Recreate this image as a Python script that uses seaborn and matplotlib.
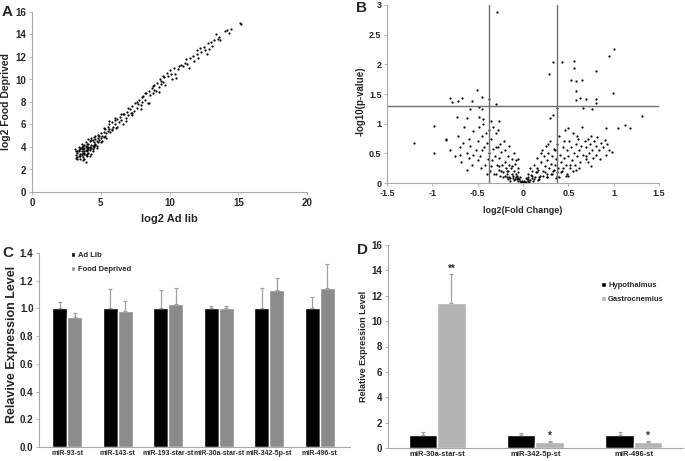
import numpy as np
import pandas as pd
import matplotlib
matplotlib.use("Agg")
import matplotlib.pyplot as plt
import seaborn as sns

# Panel A: log2 expression, ad lib vs food deprived
adlib_log2 = [3.1, 3.2, 3.2, 3.3, 3.3, 3.4, 3.4, 3.5, 3.5, 3.5, 3.6, 3.6, 3.6, 3.7, 3.7, 3.7,
              3.8, 3.8, 3.8, 3.9, 3.9, 3.9, 4.0, 4.0, 4.0, 4.0, 4.1, 4.1, 4.1, 4.2, 4.2, 4.2,
              4.3, 4.3, 4.3, 4.4, 4.4, 4.4, 4.5, 4.5, 4.5, 4.6, 4.6, 4.7, 4.7, 4.8, 4.8, 4.9,
              4.9, 5.0, 5.0, 5.1, 5.1, 5.2, 5.3, 5.3, 5.4, 5.5, 5.5, 5.6, 5.6, 5.7, 5.8, 5.9,
              6.0, 6.0, 6.1, 6.2, 6.3, 6.4, 6.5, 6.6, 6.7, 6.8, 6.9, 7.0, 7.1, 7.2, 7.3, 7.4,
              7.5, 7.6, 7.7, 7.8, 7.9, 8.0, 8.1, 8.2, 8.3, 8.4, 8.5, 8.6, 8.7, 8.8, 8.9, 9.0,
              9.1, 9.2, 9.3, 9.4, 9.5, 9.6, 9.7, 9.8, 9.9, 10.0, 10.1, 10.3, 10.4, 10.6, 10.8,
              11.0, 11.2, 11.3, 11.5, 11.7, 11.8, 12.0, 12.2, 12.3, 12.5, 12.6, 12.8, 12.9,
              13.0, 13.2, 13.4, 13.6, 13.7, 14.0, 14.2, 14.5, 15.1, 15.2,
              3.4, 3.5, 3.6, 3.7, 3.8, 3.9, 4.0, 4.1, 4.2, 3.6, 3.8, 4.0, 3.3, 4.3, 4.6, 5.2,
              5.8, 6.6, 7.3, 8.0, 8.9, 9.4, 10.5, 11.1, 12.1, 13.1,
              3.2, 3.3, 3.4, 3.5, 3.6, 3.7, 3.8, 3.9, 4.0, 4.1, 4.2, 4.3, 4.4, 4.5, 4.6, 4.7,
              4.8, 5.0, 5.2, 5.4, 5.6, 5.8, 6.0, 6.2, 6.5, 6.8, 7.0, 7.3, 7.6, 7.9, 8.2, 8.5,
              8.8, 9.2, 9.5, 10.2, 10.7, 11.4, 12.0, 12.7, 13.5, 14.3]
fooddep_log2 = [3.8, 3.3, 3.0, 3.5, 3.1, 3.7, 3.2, 3.9, 3.4, 2.9, 3.6, 3.3, 4.0, 3.8, 3.1, 2.8,
                3.5, 3.9, 4.2, 3.7, 3.3, 2.7, 3.6, 4.0, 3.9, 3.2, 3.8, 4.3, 3.5, 4.0, 3.7, 4.5,
                3.9, 4.2, 3.4, 4.6, 4.1, 3.8, 4.4, 4.0, 4.9, 4.3, 4.7, 4.5, 4.1, 4.8, 4.4, 5.0,
                4.6, 4.8, 5.2, 4.5, 5.0, 5.3, 5.0, 5.6, 5.2, 5.8, 5.4, 6.0, 5.6, 5.3, 6.2, 5.8,
                6.4, 6.0, 5.7, 6.5, 6.2, 6.7, 6.4, 6.0, 6.9, 6.6, 7.1, 6.8, 7.4, 7.0, 7.6, 7.2,
                7.9, 7.5, 7.8, 8.2, 7.7, 8.0, 8.5, 8.2, 8.8, 7.9, 9.0, 8.6, 9.2, 8.8, 9.5, 9.0,
                9.7, 9.3, 10.0, 9.6, 9.8, 10.2, 9.5, 10.6, 10.3, 10.8, 10.5, 11.0, 10.5, 10.9,
                11.3, 11.2, 11.8, 11.4, 11.9, 12.1, 11.6, 12.3, 12.8, 12.4, 12.9, 12.6, 13.2,
                12.7, 13.3, 13.5, 14.0, 13.8, 13.5, 14.3, 14.4, 14.5, 15.0, 14.9,
                3.6, 3.8, 3.4, 4.1, 3.6, 4.1, 3.7, 4.0, 3.9, 3.9, 3.4, 4.3, 3.6, 4.6, 4.2, 4.9,
                5.6, 6.9, 7.0, 8.4, 9.1, 9.9, 10.1, 11.5, 11.9, 13.0,
                3.6, 2.9, 4.0, 3.2, 4.3, 3.5, 2.9, 4.4, 3.4, 4.7, 3.2, 4.8, 3.6, 4.2, 5.0, 3.9,
                5.1, 4.4, 5.7, 4.8, 6.3, 5.5, 6.6, 5.8, 6.9, 6.3, 7.5, 6.8, 8.0, 7.4, 8.8, 7.9,
                9.4, 8.9, 10.3, 10.0, 11.2, 11.0, 12.6, 12.3, 13.6, 14.1]

# Panel B: volcano plot
fold_change = [-0.285, -1.20, -0.98, -0.98, -0.85, -0.81, -0.78, -0.72, -0.67, -0.56, -0.51,
               -0.45, -0.37, -0.30, -0.48, -0.45, -0.59, -0.73, -0.62, -0.49, -0.44, -0.27,
               0.29, 0.33, 0.43, 0.56, 0.56, 0.53, 0.58, 0.65, 0.81, 1.0, 0.95, 0.99, 0.59,
               0.63, 0.69, 0.81, 0.81, 0.76, 0.66, 0.58, 1.31, 1.12, 1.18, 1.05, 0.92, 0.30,
               0.33, 0.37,
               -0.1, -0.08, -0.06, -0.04, -0.02, 0.0, 0.01, 0.02, 0.03, 0.05, 0.06, 0.08, 0.1,
               -0.12, 0.12, -0.15, 0.15, -0.18, -0.03, 0.04, -0.05, 0.07, -0.09, 0.09,
               -0.75, -0.72, -0.7, -0.68, -0.65, -0.62, -0.6, -0.58, -0.55, -0.52, -0.5, -0.48,
               -0.47, -0.45, -0.43, -0.42, -0.4, -0.38, -0.37, -0.36, -0.35, -0.34, -0.33, -0.32,
               -0.31, -0.3, -0.29, -0.28, -0.27, -0.26, -0.25, -0.24, -0.23, -0.22, -0.21, -0.2,
               -0.19, -0.18, -0.17, -0.16, -0.15, -0.14, -0.13, -0.12, -0.11, -0.1, -0.09, -0.08,
               -0.07, -0.05, -0.03, -0.8, -0.85, -0.7, -0.66, -0.6, -0.56, -0.5, -0.46, -0.44,
               -0.41, -0.39, -0.35, -0.33, -0.3, -0.28, -0.25, -0.2, -0.15, -0.12, -0.1, -0.08,
               -0.06, -0.05, -0.3, -0.35, -0.4, -0.45, -0.55, -0.62,
               0.05, 0.08, 0.1, 0.12, 0.14, 0.15, 0.17, 0.18, 0.2, 0.21, 0.22, 0.23, 0.24, 0.25,
               0.26, 0.27, 0.28, 0.29, 0.3, 0.31, 0.32, 0.33, 0.34, 0.35, 0.36, 0.37, 0.38, 0.39,
               0.4, 0.41, 0.42, 0.43, 0.44, 0.45, 0.46, 0.47, 0.48, 0.5, 0.51, 0.52, 0.53, 0.54,
               0.55, 0.56, 0.57, 0.58, 0.6, 0.61, 0.62, 0.63, 0.64, 0.65, 0.66, 0.68, 0.69, 0.7,
               0.72, 0.73, 0.74, 0.75, 0.76, 0.77, 0.78, 0.8, 0.82, 0.84, 0.86, 0.88, 0.9, 0.93,
               0.95, 0.98, 0.6, 0.5, 0.45, 0.35, 0.28, 0.2, 0.15, 0.1, 0.7, 0.62, 0.55, 0.48,
               0.4, 0.72, 0.8, 0.85, 0.92, 0.75, 0.18, 0.22, 0.27, 0.32, 0.36, 0.42, 0.5, 0.58,
               -0.14, -0.11, -0.07, -0.01, 0.03, 0.06, 0.11, 0.13, 0.16, 0.19, -0.2, -0.16,
               0.24, 0.26, 0.31, 0.34, 0.38, 0.44, 0.47, 0.52, -0.24, -0.26, -0.22, -0.18]
neg_log10_p = [2.88, 0.675, 0.96, 0.51, 0.75, 1.44, 1.37, 1.38, 1.44, 1.38, 1.56,
               1.45, 1.42, 1.33, 1.28, 1.25, 1.24, 1.11, 1.09, 1.11, 1.08, 1.05,
               1.84, 2.04, 2.04, 2.05, 1.93, 1.74, 1.72, 1.73, 1.88, 2.25, 2.14, 1.52, 1.55,
               1.44, 1.41, 1.41, 1.34, 1.24, 1.27, 1.40, 1.13, 0.98, 0.93, 0.93, 0.93, 1.09,
               1.14, 1.27,
               0.05, 0.1, 0.03, 0.07, 0.02, 0.01, 0.04, 0.02, 0.08, 0.03, 0.1, 0.05, 0.12,
               0.15, 0.07, 0.1, 0.18, 0.2, 0.04, 0.06, 0.09, 0.02, 0.06, 0.14,
               0.45, 0.8, 0.6, 0.35, 0.95, 0.5, 0.75, 0.62, 0.88, 0.55, 0.7, 0.95,
               0.45, 0.8, 0.6, 0.3, 0.68, 0.9, 0.5, 0.2, 0.75, 0.38, 0.58, 0.15,
               0.45, 0.85, 0.3, 0.6, 0.22, 0.42, 0.12, 0.52, 0.3, 0.18, 0.7, 0.35,
               0.25, 0.1, 0.45, 0.2, 0.3, 0.08, 0.25, 0.4, 0.12, 0.2, 0.32, 0.15,
               0.06, 0.18, 0.1, 0.55, 0.72, 0.48, 0.68, 0.42, 0.3, 0.38, 0.25, 1.0,
               0.85, 0.4, 1.05, 0.95, 0.6, 0.9, 0.65, 0.55, 0.62, 0.28, 0.5, 0.38,
               0.25, 0.4, 0.15, 0.28, 0.15, 0.55, 0.48, 0.22,
               0.15, 0.25, 0.08, 0.3, 0.18, 0.42, 0.22, 0.1, 0.35, 0.55, 0.2, 0.45, 0.28, 0.62,
               0.15, 0.38, 0.5, 0.25, 0.7, 0.32, 0.45, 0.2, 0.58, 0.3, 0.4, 0.12, 0.65, 0.25,
               0.8, 0.48, 0.35, 0.2, 0.6, 0.42, 0.9, 0.3, 0.55, 0.45, 0.7, 0.25, 0.6, 0.38,
               0.85, 0.5, 0.3, 0.65, 0.45, 0.75, 0.55, 0.35, 0.62, 0.95, 0.48, 0.7, 0.4, 0.6,
               0.75, 0.5, 0.65, 0.8, 0.55, 0.42, 0.7, 0.62, 0.78, 0.55, 0.68, 0.6, 0.72, 0.65,
               0.55, 0.52, 0.8, 0.92, 0.7, 0.55, 0.65, 0.5, 0.25, 0.2, 0.45, 0.25, 0.2, 0.15,
               0.1, 0.35, 0.48, 0.4, 0.48, 0.28, 0.06, 0.12, 0.1, 0.15, 0.08, 0.18, 0.12, 0.22,
               0.04, 0.08, 0.12, 0.03, 0.01, 0.06, 0.03, 0.1, 0.05, 0.12, 0.12, 0.06,
               0.18, 0.1, 0.15, 0.22, 0.18, 0.25, 0.12, 0.3, 0.2, 0.28, 0.1, 0.15]

# Panel C: relative expression, hypothalamus
mirs_c = ["miR-93-st", "miR-143-st", "miR-193-star-st", "miR-30a-star-st", "miR-342-5p-st", "miR-496-st"]
adlib_expr = [1.0, 1.0, 1.0, 1.0, 1.0, 1.0]
adlib_err = [0.05, 0.14, 0.13, 0.02, 0.15, 0.08]
fooddep_expr = [0.935, 0.98, 1.03, 1.0, 1.135, 1.15]
fooddep_err = [0.035, 0.075, 0.12, 0.02, 0.085, 0.17]

# Panel D: hypothalamus vs gastrocnemius
mirs_d = ["miR-30a-star-st", "miR-342-5p-st", "miR-496-st"]
hypo_expr = [1.0, 1.0, 1.0]
hypo_err = [0.25, 0.15, 0.25]
gastro_expr = [11.4, 0.45, 0.5]
gastro_err = [2.3, 0.1, 0.08]
gastro_sig = ["**", "*", "*"]

sns.set_style("white")
plt.rcParams["font.family"] = ["Liberation Sans", "DejaVu Sans"]
plt.rcParams["font.weight"] = "bold"

W, H = 685, 461
fig = plt.figure(figsize=(W / 100, H / 100), dpi=100)


def px_axes(left, top, right, bottom):
    return fig.add_axes([left / W, 1 - bottom / H, (right - left) / W, (bottom - top) / H])


def excel_style(ax, tick_size=7):
    for s in ["top", "right"]:
        ax.spines[s].set_visible(False)
    for s in ["left", "bottom"]:
        ax.spines[s].set_color("#a8a8a8")
        ax.spines[s].set_linewidth(0.8)
    ax.tick_params(axis="both", labelsize=tick_size, length=2, width=0.6,
                   color="#a8a8a8", pad=2, direction="out")
    ax.tick_params(axis="both", which="both", bottom=True, left=True)
    for lab in ax.get_xticklabels() + ax.get_yticklabels():
        lab.set_fontweight("bold")


# A
axA = px_axes(32, 12, 307, 192)
sns.scatterplot(x=adlib_log2, y=fooddep_log2, ax=axA, color="black", s=2.5, linewidth=0)
axA.set_xlim(0, 20)
axA.set_ylim(0, 16)
axA.set_xticks(range(0, 21, 5))
axA.set_yticks(range(0, 17, 2))
axA.set_xlabel("log2 Ad lib", fontsize=8, fontweight="bold", labelpad=5)
axA.set_ylabel("log2 Food Deprived", fontsize=7.5, fontweight="bold")
axA.yaxis.set_label_coords(-0.075, 0.5)
excel_style(axA)

# B
axB = px_axes(387, 5, 659, 183)
sns.scatterplot(x=fold_change, y=neg_log10_p, ax=axB, color="black", s=2.5, linewidth=0)
axB.axvline(-0.38, color="#707070", lw=1)
axB.axvline(0.38, color="#707070", lw=1)
axB.axhline(1.3, color="#707070", lw=1)
axB.set_xlim(-1.5, 1.5)
axB.set_ylim(0, 3)
axB.set_xticks([-1.5, -1, -0.5, 0, 0.5, 1, 1.5])
axB.set_xticklabels(["-1.5", "-1", "-0.5", "0", "0.5", "1", "1.5"])
axB.set_yticks([0, 0.5, 1, 1.5, 2, 2.5, 3])
axB.set_yticklabels(["0", "0.5", "1", "1.5", "2", "2.5", "3"])
axB.set_xlabel("log2(Fold Change)", fontsize=6.5, fontweight="bold", labelpad=6)
axB.set_ylabel("-log10(p-value)", fontsize=7, fontweight="bold")
axB.yaxis.set_label_coords(-0.08, 0.46)
excel_style(axB, 6.5)

# C
dfC = pd.DataFrame({
    "miR": mirs_c * 2,
    "group": ["Ad Lib"] * 6 + ["Food Deprived"] * 6,
    "expr": adlib_expr + fooddep_expr,
})
axC = px_axes(39, 253, 350, 447)
sns.barplot(data=dfC, x="miR", y="expr", hue="group", ax=axC,
            palette=["black", "#8c8c8c"], width=0.6, saturation=1, errorbar=None)
for cont, errs in zip(axC.containers, [adlib_err, fooddep_err]):
    xs = [p.get_x() + p.get_width() / 2 for p in cont]
    hs = [p.get_height() for p in cont]
    axC.errorbar(xs, hs, yerr=[[0] * len(errs), errs], fmt="none",
                 ecolor="#a0a0a0", elinewidth=0.9, capsize=1.5, capthick=0.9)
axC.set_xlim(-0.56, 5.6)
axC.set_ylim(0, 1.4)
axC.set_yticks(np.arange(0, 1.41, 0.2))
axC.set_yticklabels([f"{v:.1f}" for v in np.arange(0, 1.41, 0.2)])
axC.set_xlabel("")
axC.set_ylabel("Relavive Expression Level", fontsize=9, fontweight="bold")
axC.yaxis.set_label_coords(-0.068, 0.53)
excel_style(axC, 7)
axC.tick_params(axis="x", labelsize=5, length=0)
for lab in axC.get_xticklabels():
    lab.set_fontweight("bold")
axC.legend(loc="upper left", bbox_to_anchor=(0.08, 1.04), frameon=False,
           prop={"size": 5.5, "weight": "bold"}, handlelength=0.6, handleheight=0.6,
           handletextpad=0.3, labelspacing=0.9)

# D
dfD = pd.DataFrame({
    "miR": mirs_d * 2,
    "tissue": ["Hypothalmus"] * 3 + ["Gastrocnemius"] * 3,
    "expr": hypo_expr + gastro_expr,
})
axD = px_axes(388, 245, 683, 448)
sns.barplot(data=dfD, x="miR", y="expr", hue="tissue", ax=axD,
            palette=["black", "#b4b4b4"], width=0.58, saturation=1, errorbar=None)
for cont, errs in zip(axD.containers, [hypo_err, gastro_err]):
    xs = [p.get_x() + p.get_width() / 2 for p in cont]
    hs = [p.get_height() for p in cont]
    axD.errorbar(xs, hs, yerr=[[0] * len(errs), errs], fmt="none",
                 ecolor="#a0a0a0", elinewidth=0.9, capsize=1.5, capthick=0.9)
gcont = axD.containers[1]
for p, e, sig in zip(gcont, gastro_err, gastro_sig):
    axD.text(p.get_x() + p.get_width() / 2, p.get_height() + e, sig,
             ha="center", va="bottom", fontsize=7, fontweight="bold")
axD.set_xlim(-0.5, 2.5)
axD.set_ylim(0, 16)
axD.set_yticks(range(0, 17, 2))
axD.set_xlabel("")
axD.set_ylabel("Relative Expression Level", fontsize=6.5, fontweight="bold")
axD.yaxis.set_label_coords(-0.068, 0.5)
excel_style(axD, 7)
axD.tick_params(axis="x", labelsize=5.5, length=0)
for lab in axD.get_xticklabels():
    lab.set_fontweight("bold")
axD.legend(loc="upper left", bbox_to_anchor=(0.7, 0.85), frameon=False,
           prop={"size": 5.5, "weight": "bold"}, handlelength=0.6, handleheight=0.6,
           handletextpad=0.3, labelspacing=0.9)

# panel letters
fig.text(2 / W, 1 - 16 / H, "A", fontsize=11, fontweight="bold", va="baseline")
fig.text(356 / W, 1 - 12 / H, "B", fontsize=11, fontweight="bold", va="baseline")
fig.text(2 / W, 1 - 257 / H, "C", fontsize=11, fontweight="bold", va="baseline")
fig.text(357 / W, 1 - 254 / H, "D", fontsize=11, fontweight="bold", va="baseline")

fig.savefig("out.png", dpi=100)
